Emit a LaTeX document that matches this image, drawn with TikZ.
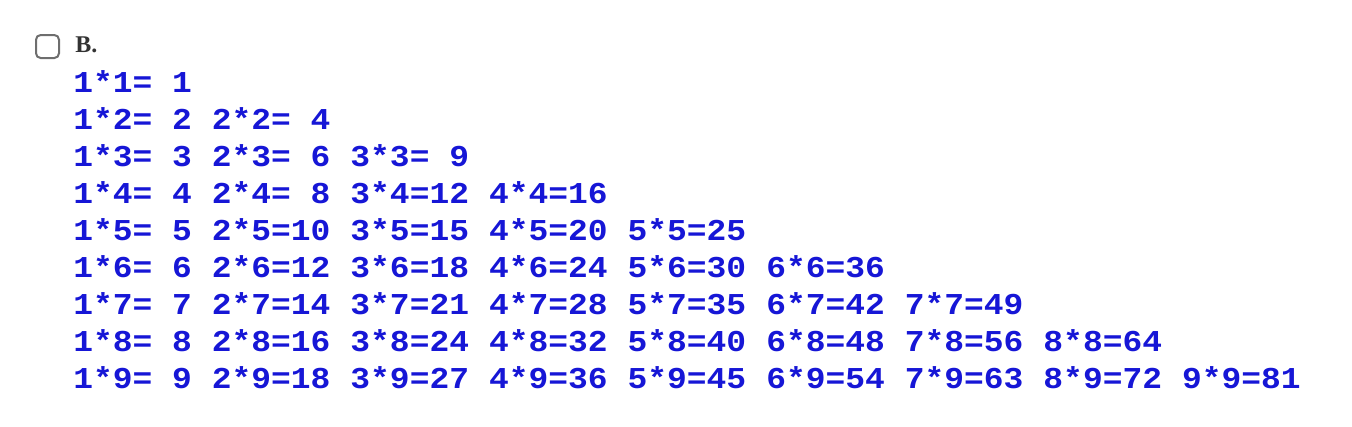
\documentclass[tikz,border=0pt]{standalone}
\usepackage{graphicx}
\usepackage{fontspec}
\setmainfont{Liberation Serif}
\newfontfamily\tablefont{Liberation Mono}
\definecolor{tableblue}{RGB}{22,22,214}
\definecolor{boxgray}{RGB}{110,110,110}
\begin{document}
\begin{tikzpicture}[x=0.75pt,y=-0.75pt,
  entry/.style={anchor=base west,inner sep=0pt,text=tableblue,
    font=\tablefont\bfseries\fontsize{24.7}{30}\selectfont}]
\useasboundingbox (0,0) rectangle (1352,426);
\draw[boxgray,line width=1.5pt,rounded corners=3.5pt] (36,35) rectangle (59,58);
\node[anchor=base west,inner sep=0pt,text=black!80,
  font=\bfseries\fontsize{18}{20}\selectfont] (label) at (75,52) {B.};
\foreach \i in {1,...,9}{
  \foreach \j in {1,...,\i}{
    \pgfmathtruncatemacro{\val}{\i*\j}
    \node[entry] (e\j-\i) at ({73+(\j-1)*138.6},{92+(\i-1)*37})
      {\scalebox{1}[0.92]{\j*\i=\ifnum\val<10 \phantom{0}\fi\val}};
  }
}
\end{tikzpicture}
\end{document}
